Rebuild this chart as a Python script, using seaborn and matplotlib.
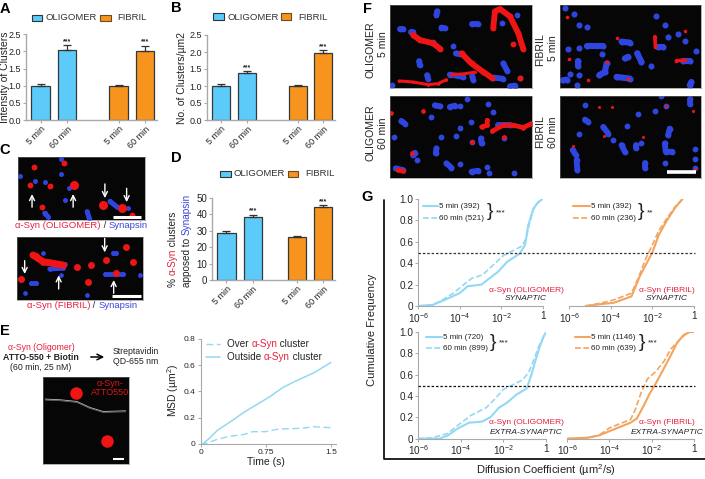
import numpy as np
import pandas as pd
import matplotlib
matplotlib.use("Agg")
import matplotlib.pyplot as plt
from matplotlib.lines import Line2D
from matplotlib.patches import Rectangle, FancyArrowPatch
import seaborn as sns

W, H = 705, 479

# bar panels: oligomer 5/60, fibril 5/60
times = ["5 min", "60 min", "5 min", "60 min"]
groups = ["OLIGOMER", "OLIGOMER", "FIBRIL", "FIBRIL"]
intensity = [1.0, 2.03, 1.0, 2.02]
intensity_err = [0.04, 0.15, 0.02, 0.15]
density = [1.0, 1.38, 1.0, 1.98]
density_err = [0.05, 0.06, 0.03, 0.08]
apposed = [28.5, 38.5, 26.0, 44.5]
apposed_err = [1.2, 1.2, 1.0, 1.0]

# MSD curves
msd_over_t = [0.0, 0.05, 0.2, 0.35, 0.5, 0.6, 0.75, 0.9, 1.05, 1.2, 1.3, 1.5]
msd_over = [0.0, 0.0, 0.035, 0.058, 0.07, 0.092, 0.092, 0.112, 0.115, 0.12, 0.13, 0.122]
msd_out_t = [0.03, 0.1, 0.2, 0.35, 0.5, 0.65, 0.8, 0.95, 1.1, 1.3, 1.5]
msd_out = [0.0, 0.04, 0.105, 0.17, 0.24, 0.3, 0.36, 0.43, 0.48, 0.54, 0.62]

# cumulative curves, x is log10 of D
syn_o_5_x = [-6, -5.3, -4.8, -4, -3.6, -2.95, -2.55, -2.15, -1.7, -1.1, -0.85, -0.7, -0.45, -0.2, 0]
syn_o_5_y = [0, 0.01, 0.05, 0.12, 0.185, 0.2, 0.26, 0.32, 0.415, 0.49, 0.57, 0.75, 0.91, 0.975, 1]
syn_o_60_x = [-6, -5.3, -4.8, -4.3, -3.8, -3.4, -2.9, -2.4, -1.9, -1.4, -1, -0.8, -0.65, -0.45, -0.25, 0]
syn_o_60_y = [0, 0.01, 0.06, 0.12, 0.2, 0.26, 0.29, 0.38, 0.47, 0.52, 0.56, 0.63, 0.76, 0.9, 0.96, 1]
syn_f_5_x = [-5.2, -4.35, -3.85, -3, -2.6, -2, -1.7, -1.3, -0.9, -0.55]
syn_f_5_y = [0, 0.02, 0.03, 0.09, 0.28, 0.5, 0.66, 0.8, 0.92, 1]
syn_f_60_x = [-5.2, -4.4, -3.8, -3, -2.7, -2.3, -2, -1.7, -1.3, -0.9, -0.55]
syn_f_60_y = [0, 0.03, 0.06, 0.12, 0.25, 0.45, 0.57, 0.7, 0.82, 0.93, 1]
ext_o_5_x = [-6, -5, -4.6, -4.1, -3.6, -3, -2.6, -2.2, -1.8, -1.4, -0.9, -0.7, -0.5, -0.3, -0.1, 0]
ext_o_5_y = [0, 0, 0.03, 0.1, 0.15, 0.16, 0.2, 0.29, 0.34, 0.41, 0.47, 0.58, 0.72, 0.85, 0.96, 0.99]
ext_o_60_x = [-6, -5.3, -4.6, -4.1, -3.5, -2.8, -2.4, -2, -1.6, -1.1, -0.8, -0.5, -0.3, -0.1, 0]
ext_o_60_y = [0, 0.01, 0.05, 0.13, 0.22, 0.29, 0.37, 0.46, 0.5, 0.55, 0.62, 0.77, 0.88, 0.95, 1]
ext_f_5_x = [-6, -5, -4.5, -4, -3.5, -3, -2.7, -2.4, -2.1, -1.8, -1.5, -1.1, -0.8, -0.5, -0.2, 0]
ext_f_5_y = [0, 0.01, 0.03, 0.07, 0.11, 0.15, 0.19, 0.3, 0.42, 0.52, 0.63, 0.78, 0.9, 0.97, 1, 1]
ext_f_60_x = [-6, -5, -4.5, -4, -3.5, -3, -2.8, -2.5, -2.2, -1.8, -1.4, -1.1, -0.7, -0.4, -0.2, 0]
ext_f_60_y = [0, 0.01, 0.03, 0.1, 0.14, 0.18, 0.26, 0.43, 0.56, 0.63, 0.73, 0.84, 0.92, 0.98, 1, 1]

# micrograph spots: each item is one spot or streak
f1_blue = [[(150, 87), (160, 87)], [(185, 96), (190, 96)], [(262, 35), (260, 45)], [(275, 83), (285, 85)],
           [(365, 72), (385, 72)], [(455, 70)], [(500, 47)], [(310, 137)], [(318, 160), (330, 162)],
           [(208, 183), (210, 195)], [(460, 190), (472, 212)], [(232, 225), (235, 235)], [(300, 223), (340, 230)],
           [(367, 228), (370, 238)], [(430, 232), (458, 235)], [(510, 232)], [(480, 258), (495, 256)],
           [(128, 255)], [(250, 125)]]
f1_red = [[(190, 105), (210, 120), (250, 130), (272, 147)], [(335, 160), (365, 190), (400, 215), (425, 232)],
          [(430, 85), (435, 35), (450, 28), (480, 50), (505, 100), (520, 147)], [(488, 131)], [(510, 232)]]
f1_red_thin = [[(148, 242), (190, 245), (235, 253), (265, 250), (290, 238)], [(305, 223), (340, 221), (375, 216)]]
f2_blue = [[(645, 25)], [(672, 42)], [(688, 75)], [(712, 80)], [(655, 147)], [(687, 143)],
           [(712, 137), (760, 137)], [(755, 163)], [(685, 182), (685, 198)], [(770, 190), (765, 215), (748, 225)],
           [(660, 222)], [(638, 240), (650, 238)], [(688, 225)], [(680, 255)], [(800, 230), (840, 235)],
           [(815, 125), (840, 128)], [(825, 175), (835, 170)], [(862, 160), (875, 185)], [(905, 198)], [(920, 50)],
           [(945, 75)], [(955, 110)], [(985, 103)], [(1005, 122)], [(925, 140), (940, 140)], [(1040, 152)],
           [(1000, 182), (1020, 182)], [(1020, 255), (1025, 245)]]
f2_red = [[(652, 52)], [(802, 115)], [(1007, 92)], [(658, 178)], [(713, 240)], [(770, 187)], [(835, 235)],
          [(915, 110), (917, 140)], [(980, 182), (1005, 180)]]
f3_blue = [[(133, 412)], [(155, 362), (165, 370)], [(245, 350)], [(255, 315), (270, 318)], [(300, 320), (315, 316)],
           [(330, 318)], [(350, 295)], [(415, 312)], [(430, 335)], [(362, 365)], [(330, 382)], [(318, 408)],
           [(275, 410)], [(260, 445), (258, 460)], [(195, 458), (190, 465)], [(203, 480)], [(290, 490), (305, 503)],
           [(330, 493)], [(365, 515), (385, 512)], [(418, 520)], [(493, 520)], [(393, 415), (395, 430)], [(463, 413)],
           [(365, 425)], [(138, 505), (160, 510)], [(410, 500)], [(445, 375), (480, 375)]]
f3_red = [[(220, 331)], [(124, 338)], [(395, 380), (412, 375), (412, 360)],
          [(427, 393), (460, 375), (490, 375), (520, 382), (545, 370)], [(188, 460)], [(367, 425)], [(462, 412)],
          [(145, 510), (160, 513)]]
f4_blue = [[(705, 315)], [(705, 358), (715, 365)], [(688, 400)], [(760, 380), (775, 400)], [(790, 420)], [(830, 378)],
           [(865, 342)], [(915, 333)], [(950, 318)], [(960, 385), (955, 405)], [(815, 435), (825, 455)],
           [(860, 435), (860, 445)], [(875, 428)], [(945, 430), (948, 455), (968, 455)], [(1035, 447)], [(1037, 478)],
           [(1035, 505)], [(945, 490)], [(885, 490), (885, 503)], [(668, 450), (678, 465)], [(680, 480), (682, 510)],
           [(1020, 295), (1020, 310)], [(935, 288)]]
f4_red = [[(747, 321)], [(786, 320)], [(950, 318)], [(1030, 333)], [(762, 406)], [(880, 409)], [(669, 439)], [(1037, 506)]]
c1_red = [[(103, 502)], [(193, 492)], [(92, 555)], [(150, 558)], [(128, 620)], [(395, 645)]]
c1_red_big = [[(222, 555)], [(310, 615)], [(365, 625)]]
c1_blue = [[(62, 530)], [(105, 545)], [(135, 547)], [(185, 522)], [(195, 600)], [(207, 565)], [(135, 640), (145, 650)],
           [(262, 635), (268, 655)], [(330, 605), (350, 620)], [(385, 625)], [(183, 478)]]
c2_red = [[(100, 45), (130, 65), (190, 75)], [(108, 47)], [(65, 118)], [(232, 80)], [(275, 75)], [(320, 60)], [(378, 22)],
          [(265, 125)], [(400, 65)], [(350, 100)]]
c2_blue = [[(130, 38)], [(340, 40), (350, 40)], [(150, 87), (190, 85)], [(95, 128), (110, 128)], [(75, 158)], [(262, 165)],
           [(185, 105)], [(315, 102), (370, 102)], [(420, 105)], [(195, 72)]]
e_red = [[(228, 460)], [(320, 604)]]
e_strand = [(135, 478), (180, 480), (230, 485), (270, 503), (310, 515), (378, 513)]

BLUE = "#5CCBFA"
ORANGE = "#F7941E"
LBLUE = "#93D8F5"
LORANGE = "#F3A45E"
RED = "#E8203F"
SYN = "#3B46D8"
GREY = "#a9a9a9"
DARK = "#222222"

sns.set_theme(style="ticks")
plt.rcParams["font.family"] = ["Liberation Sans", "DejaVu Sans"]
plt.rcParams["mathtext.default"] = "regular"
plt.rcParams["text.color"] = DARK

fig = plt.figure(figsize=(W / 100, H / 100), dpi=100)
rend = fig.canvas.get_renderer()


def px_ax(x0, y0, x1, y1):
    return fig.add_axes([x0 / W, 1 - y1 / H, (x1 - x0) / W, (y1 - y0) / H])


def label(x, y, s, size=6.5, ha="center", va="center", **kw):
    return fig.text(x / W, 1 - y / H, s, fontsize=size, ha=ha, va=va, **kw)


def rich(x, y, parts, size=6.5, vertical=False):
    # text in several colours, laid end to end from x, y
    for s, c in parts:
        t = label(x, y, s, size, ha="left", va="center", color=c, rotation=90 if vertical else 0,
                  rotation_mode="anchor")
        t.set_text("x" + s + "x")
        w = t.get_window_extent(rend)
        t.set_text("xx")
        w0 = t.get_window_extent(rend)
        t.set_text(s)
        adv = (w.height - w0.height) if vertical else (w.width - w0.width)
        if vertical:
            y -= adv
        else:
            x += adv


def line(xs, ys, **kw):
    fig.add_artist(Line2D([v / W for v in xs], [1 - v / H for v in ys], transform=fig.transFigure, **kw))


def swatch(x0, y0, x1, y1, color, edge):
    fig.add_artist(Rectangle((x0 / W, 1 - y1 / H), (x1 - x0) / W, (y1 - y0) / H, transform=fig.transFigure,
                             facecolor=color, edgecolor=edge, lw=0.8))


def grey_spines(ax, lw=0.8):
    sns.despine(ax=ax)
    for s in ["left", "bottom"]:
        ax.spines[s].set_color(GREY)
        ax.spines[s].set_linewidth(lw)


def bars(box, vals, errs, ymax, yticks, gap, star_off):
    ax = px_ax(*box)
    pos = [0, 1, 1 + gap, 2 + gap]
    df = pd.DataFrame({"pos": pos, "val": vals, "group": groups})
    sns.barplot(data=df, x="pos", y="val", hue="group", palette={"OLIGOMER": BLUE, "FIBRIL": ORANGE}, dodge=False,
                native_scale=True, width=0.7, legend=False, errorbar=None, ax=ax, linewidth=0.9, edgecolor="#33383a",
                saturation=1)
    ax.errorbar(pos, vals, yerr=[[0] * 4, errs], fmt="none", ecolor="#333333", elinewidth=0.9, capsize=2.6, capthick=0.9)
    for i, p in enumerate(pos):
        if i % 2:
            ax.text(p, vals[i] + errs[i] + star_off, "***", ha="center", va="center", fontsize=5, fontweight="bold")
    ax.set_xlim(-0.55, 2 + gap + 0.45)
    ax.set_ylim(0, ymax)
    ax.set_yticks(yticks)
    ax.set_xticks(pos)
    ax.set_xticklabels(times, rotation=45, ha="right", rotation_mode="anchor")
    ax.set_xlabel("")
    ax.set_ylabel("")
    ax.tick_params(labelsize=6.5, length=2, width=0.8, pad=1.5, color=GREY, labelcolor=DARK)
    grey_spines(ax, 1.0)
    return ax


bars((26, 34.3, 157, 120), intensity, intensity_err, 2.5, [0, 0.5, 1, 1.5, 2, 2.5], 1.96, 0.1)
bars((207, 35, 335, 120), density, density_err, 2.5, [0, 0.5, 1, 1.5, 2, 2.5], 1.96, 0.1)
ax_d = bars((212, 198, 335, 280), apposed, apposed_err, 50, [0, 10, 20, 30, 40, 50], 1.68, 2.5)
ax_d.tick_params(axis="y", labelsize=7)

label(5, 77, "Intensity of Clusters", 7.5, rotation=90)
label(182, 78, "No. of Clusters/µm2", 7.5, rotation=90)
rich(173, 287, [("% ", DARK), ("α-Syn", RED), (" clusters", DARK)], 7.2, vertical=True)
rich(187, 287, [("apposed to ", DARK), ("Synapsin", SYN)], 7.2, vertical=True)

for (a, b, c, d, e, f, g, h, i) in [(32, 15, 42, 21, 45, 100, 111, 117, 18),
                                    (213, 13, 224, 20, 227, 281, 291, 298, 17),
                                    (220, 171, 231, 177, 234, 288, 298, 305, 174)]:
    swatch(a, b, c, d, BLUE, "#333333")
    label(e, i, "OLIGOMER", 6.8, ha="left", color="#333333")
    swatch(f, b, g, d, ORANGE, "#6b4a20")
    label(h, i, "FIBRIL", 6.8, ha="left", color="#333333")


def spots(ax, items, color, lw):
    for it in items:
        xs, ys = zip(*it)
        ax.plot(xs, ys, color=color, lw=lw, marker="o", ms=lw, solid_capstyle="round", mew=0)


def micro(box, xlim, ylim, red, blue, red_w=3.5, blue_w=3.5):
    ax = px_ax(*box)
    ax.set_facecolor("#060606")
    spots(ax, blue, "#2F45E0", blue_w)
    spots(ax, red, "#F01414", red_w)
    ax.set_xlim(*xlim)
    ax.set_ylim(*ylim)
    ax.set_xticks([])
    ax.set_yticks([])
    for s in ax.spines.values():
        s.set_color("#777777")
        s.set_linewidth(0.4)
    return ax


def scale_bar(ax, x0, x1, y, lw=2.2):
    ax.plot([x0, x1], [y, y], color="white", lw=lw, solid_capstyle="butt")


def arrows(ax, pairs):
    for x, y0, y1 in pairs:
        ax.annotate("", xy=(x, y1), xytext=(x, y0),
                    arrowprops=dict(arrowstyle="->", color="white", lw=1.0, mutation_scale=9, shrinkA=0, shrinkB=0))


# C micrographs
ax = micro((18, 157, 145, 220), (55, 435), (660, 473), c1_red, c1_blue, 4.2, 3.6)
spots(ax, c1_red_big, "#F01414", 6.5)
arrows(ax, [(97, 622, 583), (220, 622, 583), (315, 553, 595), (380, 566, 607)])
scale_bar(ax, 338, 423, 650)
ax = micro((17, 237, 143, 300), (52, 430), (180, -9), c2_red, c2_blue, 5.0, 3.4)
arrows(ax, [(315, -5, 37), (75, 62, 102), (177, 147, 106), (342, 160, 120)])
scale_bar(ax, 338, 423, 168)
rich(15, 226, [("α-Syn (OLIGOMER)", RED), (" / ", DARK), ("Synapsin", SYN)], 6.8)
rich(27, 306, [("α-Syn (FIBRIL)", RED), (" / ", DARK), ("Synapsin", SYN)], 6.8)

# E
label(41, 347, "α-Syn (Oligomer)", 6.3, color=RED)
label(41, 357, "ATTO-550 + Biotin", 6.3, fontweight="bold")
label(41, 368, "(60 min, 25 nM)", 6.3)
label(136, 351, "Streptavidin", 6.3)
label(136, 362, "QD-655 nm", 6.3)
fig.add_artist(FancyArrowPatch((88 / W, 1 - 357 / H), (107 / W, 1 - 357 / H), transform=fig.transFigure,
                               arrowstyle="->", mutation_scale=10, lw=1.1, color="black"))
ax = micro((43, 377, 129, 464), (128, 388), (672, 412), e_red, [], 9, 1)
xs, ys = zip(*e_strand)
ax.plot(xs, ys, color="#bdbdbd", lw=0.6)
ax.plot(xs, [v + 3 for v in ys], color="#7a7a7a", lw=0.5)
scale_bar(ax, 340, 373, 658, 1.5)
label(110, 388, "α-Syn-\nATTO550", 6.5, color="#D81818", linespacing=1.1)

# MSD
ax = px_ax(200.5, 339, 336, 443.7)
sns.lineplot(x=msd_over_t, y=msd_over, color=LBLUE, ax=ax, linestyle=(0, (5, 2.5)), lw=1.0, errorbar=None)
sns.lineplot(x=msd_out_t, y=msd_out, color=LBLUE, ax=ax, lw=1.1, errorbar=None)
ax.set_xlim(0, 1.56)
ax.set_ylim(0, 0.8)
ax.set_xticks([0, 0.75, 1.5])
ax.set_xticklabels(["0", "0.75", "1.5"])
ax.set_yticks([0, 0.2, 0.4, 0.6, 0.8])
ax.set_yticklabels(["0", "0.2", "0.4", "0.6", "0.8"])
ax.tick_params(labelsize=6, length=2, width=0.7, pad=1.5, color=GREY)
grey_spines(ax)
line([206, 220], [344, 344], color=LBLUE, lw=1.0, ls=(0, (5, 2.5)))
line([206, 220], [357, 357], color=LBLUE, lw=1.1)
rich(227, 344, [("Over ", DARK), ("α-Syn", RED), (" cluster", DARK)], 7.1)
rich(227, 357, [("Outside ", DARK), ("α-Syn", RED), (" cluster", DARK)], 7.1)
label(173, 390, "MSD (µm$^2$)", 7.5, rotation=90)
label(266, 462, "Time (s)", 7.5)

# F micrographs
ax1 = micro((390, 5, 532, 88), (121, 546), (263, 16), f1_red, f1_blue, 4.2, 4.2)
spots(ax1, f1_red_thin, "#F01414", 2.2)
ax2 = micro((560, 5, 701, 88), (630, 1054), (263, 16), f2_red, f2_blue, 2.6, 4.4)
ax3 = micro((390, 96, 532, 178), (121, 546), (534, 287), f3_red, f3_blue, 3.4, 4.2)
ax4 = micro((560, 96, 701, 178), (630, 1054), (534, 287), f4_red, f4_blue, 2.2, 4.2)
scale_bar(ax4, 952, 1040, 517, 2.6)
label(370, 50, "OLIGOMER", 7.6, rotation=90)
label(383, 44, "5 min", 7.6, rotation=90)
label(370, 133, "OLIGOMER", 7.6, rotation=90)
label(383, 133, "60 min", 7.6, rotation=90)
label(540, 50, "FIBRIL", 7.6, rotation=90)
label(553, 48, "5 min", 7.6, rotation=90)
label(540, 132, "FIBRIL", 7.6, rotation=90)
label(553, 132, "60 min", 7.6, rotation=90)


# G
def cdf(box, solid, dashed, color, show_y, legend, note1, note2):
    ax = px_ax(*box)
    for (xv, yv), ls, lw in [(dashed, (0, (3.5, 1.5)), 1.2), (solid, "-", 1.5)]:
        df = pd.DataFrame({"d": 10.0 ** np.array(xv), "f": yv})
        sns.lineplot(data=df, x="d", y="f", color=color, ax=ax, lw=lw, linestyle=ls, errorbar=None)
    ax.set_xscale("log")
    ax.set_xlim(1e-6, 1)
    ax.set_ylim(0, 1)
    ax.set_xticks([1e-6, 1e-4, 1e-2, 1])
    ax.set_xticklabels(["10$^{-6}$", "10$^{-4}$", "10$^{-2}$", "1"])
    ax.minorticks_off()
    ax.set_yticks([0, 0.2, 0.4, 0.6, 0.8, 1.0])
    ax.set_xlabel("")
    ax.set_ylabel("")
    ax.tick_params(labelsize=7.2, length=2, width=0.7, pad=1.5, color=GREY)
    ax.patch.set_alpha(0)
    grey_spines(ax)
    if show_y:
        ax.set_yticklabels(["0", "0.2", "0.4", "0.6", "0.8", "1.0"])
    else:
        ax.tick_params(axis="y", left=False, labelleft=False)
        ax.spines["left"].set_visible(False)
    x0, x1, xt, y0, y1, xb, stars, xs, l0, l1 = legend
    line([x0, x1], [y0, y0], color=color, lw=1.5)
    line([x0, x1], [y1, y1], color=color, lw=1.2, ls=(0, (3.5, 1.5)))
    label(xt, y0 + 0.5, l0, 5.8, ha="left")
    label(xt, y1 + 0.5, l1, 5.8, ha="left")
    label(xb, (y0 + y1) / 2, "}", 14, fontweight="light")
    label(xs, (y0 + y1) / 2 + 0.5, stars, 6)
    xc, yc1, yc2 = note1
    label(xc, yc1, "α-Syn (OLIGOMER)" if xc < 600 else "α-Syn (FIBRIL)", 6, color=RED)
    label(xc, yc2, note2, 6, style="italic")


cdf((418, 199, 542.7, 306), (syn_o_5_x, syn_o_5_y), (syn_o_60_x, syn_o_60_y), LBLUE, True,
    (423, 438, 439, 206, 218, 490, "***", 501, "5 min (392)", "60 min (521)"), (526, 290, 299), "SYNAPTIC")
cdf((569, 199, 694, 306), (syn_f_5_x, syn_f_5_y), (syn_f_60_x, syn_f_60_y), LORANGE, False,
    (573, 590, 591, 206, 218, 641, "**", 650, "5 min (392)", "60 min (236)"), (667, 290, 299), "SYNAPTIC")
cdf((418, 332, 545.7, 438.7), (ext_o_5_x, ext_o_5_y), (ext_o_60_x, ext_o_60_y), LBLUE, True,
    (426, 442, 443, 337, 348, 493, "***", 504, "5 min (720)", "60 min (899)"), (526, 423, 433), "EXTRA-SYNAPTIC")
cdf((567, 332, 694, 438.7), (ext_f_5_x, ext_f_5_y), (ext_f_60_x, ext_f_60_y), LORANGE, False,
    (575, 590, 591, 337, 348, 642, "***", 653, "5 min (1146)", "60 min (639)"), (667, 423, 433), "EXTRA-SYNAPTIC")

line([418, 695], [253, 253], color="#333333", lw=0.9, ls=(0, (2, 1.5)))
line([418, 695], [386, 386], color="#111111", lw=0.9, ls=(0, (2, 1.5)))
line([384, 384, 705], [200, 459, 459], color="black", lw=1.2)
label(372, 330, "Cumulative Frequency", 8, rotation=90)
label(546, 470.5, "Diffusion Coefficient (µm$^2$/s)", 8)

for s, x, y in [("A", 5, 9), ("B", 176, 8), ("C", 5, 150), ("D", 176, 158), ("E", 5, 331), ("F", 367, 9), ("G", 367, 197)]:
    label(x, y, s, 10.5, fontweight="bold", color="black")

fig.savefig("out.png", dpi=100)
